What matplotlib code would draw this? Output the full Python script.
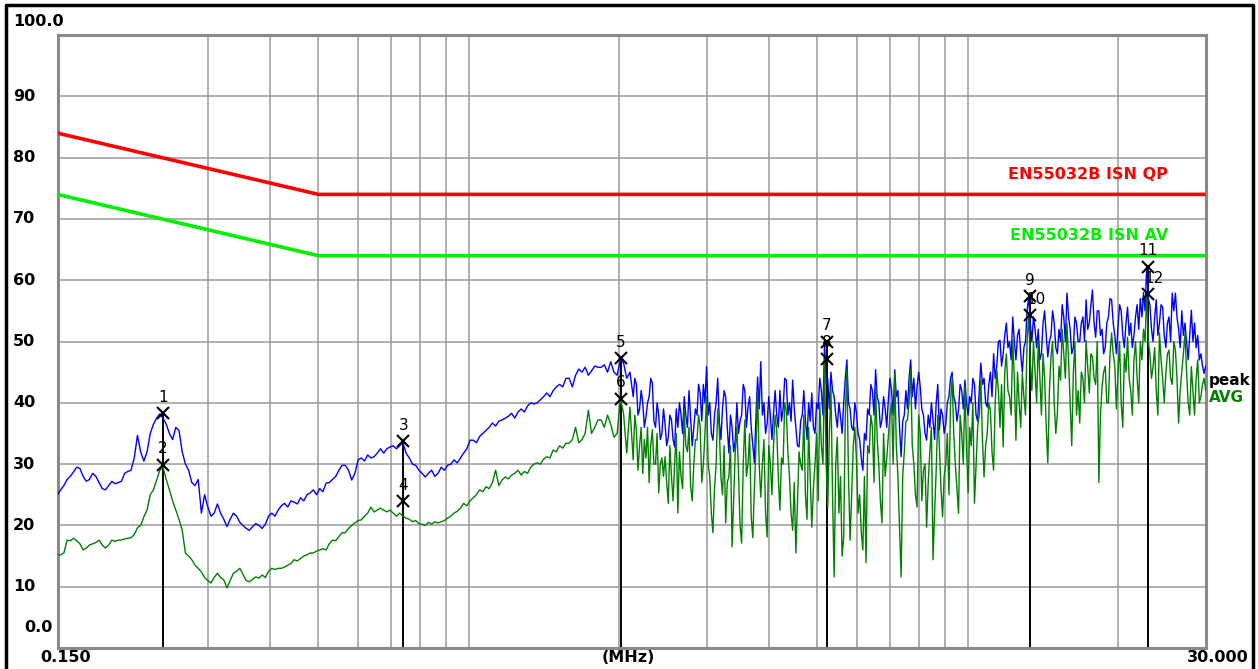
import numpy as np
import matplotlib
matplotlib.use("Agg")
import matplotlib.pyplot as plt

plt.rcParams['font.family'] = ['DejaVu Sans']

# ---------------- data ----------------
# sweep: low band 0.150-2.105 MHz (180 pts), high band 2.137-30 MHz (360 pts)
low_band = (0.150, 2.105, 180)
high_band = (2.137, 30.000, 360)

peak_low_db = [
    25, 25.8, 26.5, 27.5, 28, 28.7, 29.5, 29.3, 28, 27.2,
    27.5, 28.5, 28, 27, 26, 25.8, 26.5, 27.2, 26.8, 27,
    27.2, 28.5, 28.8, 29, 31, 34.7, 32, 30.5, 32, 35,
    36.5, 37.5, 38.2, 37.5, 36.5, 35, 34, 36, 35.5, 32,
    30, 29, 27, 26.5, 27.5, 22, 25, 23, 21.5, 22,
    23.5, 22, 21, 19.8, 21, 22, 21.5, 20.5, 20, 19.5,
    19.2, 19.8, 20.3, 20, 19.5, 20.2, 21.5, 22, 21.5, 22.5,
    23.2, 23.6, 23, 24, 23.8, 23.5, 24.5, 24, 25, 25.3,
    25.8, 25, 26, 25.5, 26.9, 27, 27.5, 28, 29, 29.8,
    29.8, 29, 27.4, 28.5, 30.7, 31, 30.5, 31.5, 31, 31.2,
    31.8, 32.5, 31.8, 32.5, 32.8, 33, 32.5, 33, 33.5, 31.8,
    31, 30, 29.8, 29, 28.5, 27.9, 28.5, 29, 28, 28.5,
    29.5, 29, 29.8, 30, 30.7, 30.2, 31, 31.8, 32.5, 33.9,
    33.9, 33.5, 34.5, 35, 35.5, 36, 36.7, 36.2, 37, 37.2,
    37.5, 37.8, 38.3, 37.5, 38.5, 39, 38.5, 39.5, 40, 39.8,
    40, 40.5, 41, 41.6, 41, 42, 42.6, 43, 42.6, 44,
    44, 42.6, 44.5, 45.5, 45, 45.8, 44.5, 45.2, 46, 45.8,
    45.8, 46.2, 45, 46.7, 45, 44.5, 47, 46.5, 44, 45,
]

peak_high_db = [
    41, 44, 43, 38, 39, 42, 40, 36, 37.7, 40, 41, 44, 43.2, 37, 36, 40, 38, 34, 35, 39,
    36.5, 33, 34.4, 38, 37.2, 34, 32.8, 39, 36, 40, 38, 35, 41, 38, 36, 42, 37.5, 33, 36, 39,
    38, 43, 41.6, 37, 43, 40, 45.9, 38, 40, 35, 33.9, 38, 40, 44, 37, 34, 39, 42, 41, 36,
    31.8, 38, 36, 32, 33.9, 40, 35, 37, 38, 43, 42, 36, 39.3, 41, 36, 33, 30.2, 38, 44.2, 39,
    46.7, 38, 40, 35, 36.7, 41, 38, 34, 38.3, 42, 38, 36, 42, 37, 39, 44, 43.7, 38, 40, 37,
    43.7, 39, 36, 33, 32.8, 37, 38, 42, 37.2, 34, 40, 37, 41.6, 36, 35, 40, 39, 44, 42, 38,
    50, 43, 44, 39, 45, 42, 41, 38, 36, 40, 37.7, 35, 40, 44, 47, 40, 39, 36, 35.5, 40,
    38.3, 35, 34, 31, 29, 35, 33.9, 39, 38, 43, 42, 38, 45.4, 41, 40, 36, 37.2, 41, 39, 36,
    40.5, 44, 42, 38, 45.4, 41, 42, 36, 31.2, 37, 38, 42, 39, 44, 47, 41, 44, 39, 42.6, 45,
    42.6, 39, 38, 35, 33.9, 38, 36, 40, 37.2, 34, 40, 43, 35.6, 39, 38, 35, 36.5, 40, 41, 44,
    45, 41, 40, 37, 38.8, 43, 42, 39, 43.7, 40, 38, 41, 40, 44, 43, 38, 37, 42, 46.5, 43,
    44, 40, 39.3, 43, 45, 41, 48, 44, 46, 50, 50.2, 46, 48, 51, 53, 49, 50, 47, 54, 50,
    47, 51, 52, 48, 45, 49, 50, 55, 57.4, 53, 50, 54, 52, 49, 52, 47, 48, 53, 55, 51,
    47.5, 50, 51, 55, 53, 49, 48, 52, 50, 56, 54, 50, 57.9, 54, 52, 48, 49, 54, 53, 50,
    50, 53, 54, 50, 56.8, 52, 53, 56, 58.4, 53, 50.7, 55, 55, 51, 52, 48, 49, 53, 54, 57,
    56.8, 53, 51, 48, 52.4, 56, 55, 51, 49, 53, 55.6, 51, 53, 49, 51, 54, 56, 52, 57, 54,
    58, 55, 62.3, 57, 56, 52, 50, 54, 56.8, 51, 53, 56, 55.6, 51, 49, 53, 54, 50, 57.9, 55,
    57.9, 54, 52, 49, 55, 51, 53, 50, 47, 51, 55.1, 50, 53, 49, 51, 47, 48, 46, 44.8, 46,
]

avg_low_db = [
    15.2, 15.2, 15.5, 17.6, 17.5, 17.9, 17.5, 17, 16, 16.3,
    16.8, 17, 17.2, 17.6, 16.8, 16.3, 16.8, 17.6, 17.4, 17.6,
    17.6, 17.8, 17.9, 18, 18.5, 19.6, 20, 21.4, 22.5, 25,
    25.8, 27.4, 29, 29.5, 27.5, 25.8, 24, 22.5, 21, 19.2,
    15.5, 15, 14.4, 13.5, 13, 12.4, 11.5, 11, 10.6, 11.5,
    12.2, 11.5, 11.1, 9.8, 11, 12.2, 12.5, 13, 12, 11,
    10.8, 11.2, 11.6, 11.4, 11.9, 11.5, 12.5, 13, 12.8, 13,
    13, 13.2, 13.5, 13.8, 14.4, 14.2, 14.6, 15, 15.2, 15.5,
    15.5, 15.8, 16, 16.2, 16, 17, 17.6, 17.5, 18.2, 18.8,
    18.8, 19.5, 20, 20.4, 20.8, 20.9, 21.5, 22, 23, 22.2,
    22.5, 22.8, 22.5, 22.2, 22.5, 22, 21.5, 22, 21.5, 21.2,
    21, 20.6, 20.8, 20.3, 20.2, 20, 20.5, 20.2, 20.6, 20.4,
    20.6, 20.8, 21.2, 21.5, 22, 22.3, 22.8, 23.6, 23.2, 24,
    24.5, 25, 25.8, 25.5, 26.3, 26, 27, 29, 26.5, 27.4,
    27.9, 27.6, 28.2, 28.5, 29, 28.2, 28.8, 28.5, 29.5, 30,
    30.2, 30, 30.8, 31.2, 31, 32.3, 32, 33, 32.6, 33.4,
    33.4, 34, 36, 33.5, 34, 35, 38.8, 35, 36, 37.2,
    37.2, 36, 38, 36.5, 34.4, 35, 40.7, 38.3, 31.8, 39.3,
]

avg_high_db = [
    30.7, 38, 35.6, 29, 33, 36, 28.5, 34, 31, 36, 27, 33, 35.6, 30, 30, 35, 25.3, 30, 31, 28,
    31.2, 27, 23.6, 33, 28, 24, 30.2, 35, 22, 32, 28, 26, 38.8, 33, 32, 36, 26.3, 24, 30, 34,
    33.9, 38, 36, 27, 30, 35, 41, 30, 28, 22, 18.8, 26, 30, 39, 35.6, 28, 25, 33, 20.4, 27,
    28, 33, 16.5, 24, 32, 36, 29, 20, 17.1, 30, 37.2, 28, 30, 35, 21.4, 18, 26, 33, 42, 30,
    24.6, 30, 34, 22, 18.1, 33, 30.2, 25, 33, 38, 35.6, 28, 22.5, 31, 30, 40, 38.8, 32, 28, 22,
    19.2, 27, 15.5, 24, 32, 30, 29, 38, 25, 21, 36, 28, 19.7, 26, 30, 35, 24, 40, 33, 30,
    47, 30, 23, 35, 42.6, 25, 11.6, 30, 34.4, 22, 28, 15, 18.1, 38, 45.4, 28, 17.6, 25, 33, 36,
    30.7, 22, 25, 19, 16, 28, 13.9, 33, 31.8, 38, 36, 27, 42.6, 34, 30, 24, 20.4, 35, 28, 31,
    34.4, 38, 40, 30, 44.8, 33, 28, 20, 11.6, 28, 32, 37, 37.2, 40, 45.4, 33, 30, 25, 23, 38,
    35, 24, 29, 30, 19.7, 27, 32, 36, 14.4, 22, 29, 38, 33, 26, 21.4, 28, 30, 35, 25, 40,
    44.2, 35, 30, 26, 22, 38, 35, 30, 42.6, 33, 25.3, 36, 33, 40, 23.6, 30, 36, 38, 43.7, 34,
    27.9, 33, 35, 40, 38.8, 32, 29, 40, 45.4, 42, 36, 43, 32.8, 45, 48, 42, 41, 38, 50.2, 44,
    33.9, 45, 40, 36, 44.8, 41, 38, 50, 54.3, 47, 42, 50, 45, 40, 50.2, 44, 38, 48, 44, 36,
    30.2, 42, 47.5, 50, 40, 35, 38.3, 46, 43.7, 52, 48, 44, 53, 47, 40, 33, 44.8, 50, 38, 42,
    36.7, 45, 44, 40, 50.2, 46, 41.6, 48, 47.5, 44, 43, 50, 27, 38, 42.6, 45, 46, 40, 40, 48,
    51.4, 48, 46, 39, 44.8, 50, 40, 36, 48, 45, 50.7, 44, 42, 38, 47, 50, 44, 40, 50, 47,
    52, 50, 57.7, 50, 48, 44, 45.9, 49, 42, 38, 51.4, 47, 44, 40, 44.8, 48, 48.6, 44, 43, 50,
    48.6, 44, 36.7, 42, 45, 48, 51.4, 45, 40, 38, 45.9, 42, 38, 44, 47, 40, 41, 43, 44, 42,
]

# limit lines (EN55032 class B, ISN)
limit_freq = [0.15, 0.5, 30.0]
limit_qp = [84, 74, 74]
limit_av = [74, 64, 64]

# markers
marker_ids = ["1", "2", "3", "4", "5", "6", "7", "8", "9", "10", "11", "12"]
marker_freq = [0.2437, 0.2437, 0.7398, 0.7398, 2.020, 2.020,
               5.22, 5.22, 13.34, 13.34, 23.0, 23.0]
marker_level = [38.3, 29.9, 33.7, 23.9, 47.3, 40.7,
                50.0, 47.2, 57.4, 54.3, 62.2, 57.7]

y_tick_values = [10, 20, 30, 40, 50, 60, 70, 80, 90]
grid_freqs = [0.3, 0.4, 0.5, 0.6, 0.7, 0.8, 0.9,
              1, 2, 3, 4, 5, 6, 7, 8, 9, 10, 20]

# ---------------- figure ----------------
W, H = 1258, 669
fig = plt.figure(figsize=(W / 100, H / 100), dpi=100)
fig.patch.set_facecolor('white')

def fx(px):
    return px / W

def fy(py):
    return 1 - py / H

ax = fig.add_axes([fx(57.5), fy(648), (1205.7 - 57.5) / W, (648 - 35) / H])
ax.set_xscale('log')
ax.set_xlim(0.150, 30.000)
ax.set_ylim(0, 100)
ax.set_xticks(grid_freqs)
ax.set_xticks([], minor=True)
ax.set_yticks(y_tick_values)
ax.tick_params(length=0, labelbottom=False, labelleft=False)
ax.grid(True, color='#9a9a9a', lw=1.1, zorder=0)
for s in ax.spines.values():
    s.set_color('#8a8a8a')
    s.set_linewidth(2.2)

freq = np.concatenate([np.geomspace(*low_band), np.geomspace(*high_band)])
peak_db = np.array(peak_low_db + peak_high_db)
avg_db = np.array(avg_low_db + avg_high_db)

# marker vertical lines
pairs = {}
for fq, lv in zip(marker_freq, marker_level):
    pairs[fq] = max(lv, pairs.get(fq, 0))
ax.vlines(list(pairs.keys()), 0, list(pairs.values()), color='black', lw=1.4, zorder=2)

ax.plot(freq, peak_db, color='#0000ff', lw=1.0, zorder=3)
ax.plot(freq, avg_db, color='#008000', lw=1.0, zorder=4)

ax.plot(limit_freq, limit_qp, color='#ff0000', lw=2.6, zorder=5, solid_capstyle='butt')
ax.plot(limit_freq, limit_av, color='#00ee00', lw=2.6, zorder=5, solid_capstyle='butt')

ax.plot(marker_freq, marker_level, linestyle='none', marker='x', ms=9, mew=1.5,
        color='black', zorder=6)
for mid, fq, lv in zip(marker_ids, marker_freq, marker_level):
    dx = 6 if mid in ("10", "12") else 0
    ax.annotate(mid, (fq, lv), xytext=(dx, 16), textcoords='offset pixels',
                ha='center', va='center', fontsize=11, color='black', zorder=7)

# limit labels
ax.text(0.967, 77.3, "EN55032B ISN QP", transform=ax.get_yaxis_transform(),
        ha='right', va='center', color='#ff0000', fontsize=11.5, fontweight='bold', zorder=8)
ax.text(0.967, 67.3, "EN55032B ISN AV", transform=ax.get_yaxis_transform(),
        ha='right', va='center', color='#00ee00', fontsize=11.5, fontweight='bold', zorder=8)

# y labels
for v in y_tick_values:
    py = 648 - v * 6.13
    fig.text(fx(13), fy(py), str(v), ha='left', va='center', fontsize=11.5, fontweight='bold')
fig.text(fx(13), fy(22), "100.0", ha='left', va='center', fontsize=11.5, fontweight='bold')
fig.text(fx(24), fy(628), "0.0", ha='left', va='center', fontsize=11.5, fontweight='bold')

# x labels
fig.text(fx(40), fy(658), "0.150", ha='left', va='center', fontsize=11.5, fontweight='bold')
fig.text(fx(1249), fy(658), "30.000", ha='right', va='center', fontsize=11.5, fontweight='bold')
fig.text(fx(628), fy(658), "(MHz)", ha='center', va='center', fontsize=11.5, fontweight='bold')

# legend texts
fig.text(fx(1209), fy(380), "peak", ha='left', va='center', fontsize=11, fontweight='bold', color='black')
fig.text(fx(1209), fy(397), "AVG", ha='left', va='center', fontsize=11, fontweight='bold', color='#008000')

# outer border
border = plt.Line2D([fx(6), fx(6), fx(1253), fx(1253)],
                    [0, fy(5), fy(5), 0], transform=fig.transFigure,
                    color='black', lw=2.5)
fig.add_artist(border)

fig.savefig("out.png", dpi=100, facecolor='white')
